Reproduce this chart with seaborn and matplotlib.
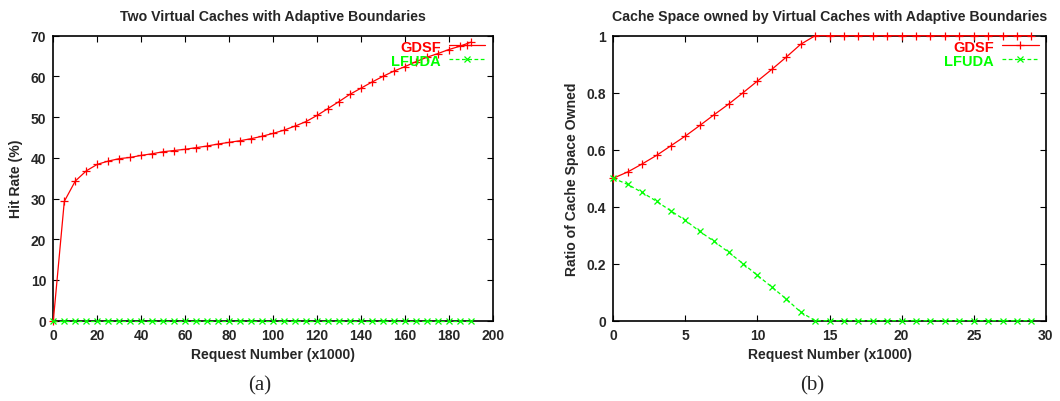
import numpy as np
import pandas as pd
import matplotlib
matplotlib.use("Agg")
import matplotlib.pyplot as plt
import seaborn as sns

# (a) hit rate over requests (x1000)
req_a = list(range(0, 195, 5))
gdsf_hit = [0.0, 29.3, 34.3, 36.8, 38.4, 39.2, 39.8, 40.1, 40.6, 41.0,
            41.5, 41.8, 42.1, 42.5, 42.9, 43.4, 43.8, 44.2, 44.7, 45.3,
            46.0, 46.8, 47.8, 48.9, 50.4, 52.1, 53.8, 55.6, 57.1, 58.6,
            60.0, 61.3, 62.4, 63.6, 64.7, 65.6, 66.6, 67.4, 68.4]
lfuda_hit = [0.0] * len(req_a)

# (b) share of cache space owned by each virtual cache
req_b = list(range(0, 30))
gdsf_share = [0.500, 0.522, 0.550, 0.580, 0.614, 0.648, 0.685, 0.723, 0.760,
              0.800, 0.841, 0.882, 0.925, 0.970] + [1.0] * 16
lfuda_share = [0.500, 0.478, 0.450, 0.419, 0.385, 0.352, 0.313, 0.278, 0.240,
               0.200, 0.159, 0.118, 0.076, 0.030] + [0.0] * 16

series_names = ["GDSF", "LFUDA"]
titles = ["Two Virtual Caches with Adaptive Boundaries",
          "Cache Space owned by Virtual Caches with Adaptive Boundaries"]
ylabels = ["Hit Rate (%)", "Ratio of Cache Space Owned"]
xlabel = "Request Number (x1000)"
captions = ["(a)", "(b)"]

sns.set_theme(style="ticks")
plt.rcParams["font.family"] = ["Liberation Sans", "DejaVu Sans"]
plt.rcParams["font.weight"] = "bold"

RED = "#ff0000"
GREEN = "#00ff00"
palette = {"GDSF": RED, "LFUDA": GREEN}
markers = {"GDSF": "+", "LFUDA": "x"}
dashes = {"GDSF": "", "LFUDA": (3, 2)}

fig = plt.figure(figsize=(10.6, 4.02), dpi=100)
ax_a = fig.add_axes([0.0503, 0.1998, 0.4145, 0.7089])
ax_b = fig.add_axes([0.5786, 0.1998, 0.4080, 0.7089])


def draw(ax, x, g, l):
    df = pd.DataFrame({"x": list(x) * 2, "y": list(g) + list(l),
                       "series": ["GDSF"] * len(x) + ["LFUDA"] * len(x)})
    sns.lineplot(data=df, x="x", y="y", hue="series", style="series",
                 palette=palette, markers=markers, dashes=dashes,
                 hue_order=series_names, style_order=series_names,
                 linewidth=0.9, markersize=5.5, markeredgewidth=0.9,
                 ax=ax, legend=False)
    lines = ax.get_lines()[:2]
    for ln, name in zip(lines, series_names):
        ln.set_color(palette[name])
        ln.set_markeredgecolor(palette[name])
        ln.set_markerfacecolor(palette[name])
        ln.set_marker(markers[name])
        ln.set_markersize(5.5 if name == "GDSF" else 4.5)
        ln.set_markeredgewidth(0.9)
        ln.set_linestyle("-" if name == "GDSF" else (0, (3, 2)))
        ln.set_clip_on(False)
        ln.set_zorder(3 if name == "GDSF" else 4)
    leg = ax.legend(lines, series_names, loc="upper right",
                    bbox_to_anchor=(1.0, 1.012),
                    markerfirst=False, frameon=False, numpoints=1,
                    handlelength=2.5, handletextpad=0.55, labelspacing=0.0,
                    borderaxespad=0.3, borderpad=0.2,
                    prop={"size": 10.5, "weight": "bold"})
    for txt, c in zip(leg.get_texts(), [RED, GREEN]):
        txt.set_color(c)


draw(ax_a, req_a, gdsf_hit, lfuda_hit)
draw(ax_b, req_b, gdsf_share, lfuda_share)

ax_a.set_xlim(0, 200)
ax_a.set_ylim(0, 70)
ax_a.set_xticks(np.arange(0, 201, 20))
ax_a.set_yticks(np.arange(0, 71, 10))

ax_b.set_xlim(0, 30)
ax_b.set_ylim(0, 1)
ax_b.set_xticks(np.arange(0, 31, 5))
ax_b.set_yticks([0, 0.2, 0.4, 0.6, 0.8, 1.0])
ax_b.set_yticklabels(["0", "0.2", "0.4", "0.6", "0.8", "1"])

for ax, title, yl in zip([ax_a, ax_b], titles, ylabels):
    ax.set_title(title, fontsize=10.2, fontweight="bold", pad=11)
    ax.set_xlabel(xlabel, fontsize=10.1, fontweight="bold", labelpad=4)
    ax.set_ylabel(yl, fontsize=10.1, fontweight="bold", labelpad=6)
    ax.tick_params(direction="in", top=True, right=True, length=4,
                   width=0.8, labelsize=10, pad=5, color="black")
    for lab in ax.get_xticklabels() + ax.get_yticklabels():
        lab.set_fontweight("bold")
    for s in ax.spines.values():
        s.set_visible(True)
        s.set_color("black")
        s.set_linewidth(1.2)
        s.set_zorder(2)

fig.text(260 / 1060, 1 - 386 / 402, captions[0], ha="center", va="center",
         fontsize=15, family="Liberation Serif", fontweight="normal")
fig.text(812 / 1060, 1 - 386 / 402, captions[1], ha="center", va="center",
         fontsize=15, family="Liberation Serif", fontweight="normal")

fig.savefig("out.png", dpi=100, facecolor="white")
